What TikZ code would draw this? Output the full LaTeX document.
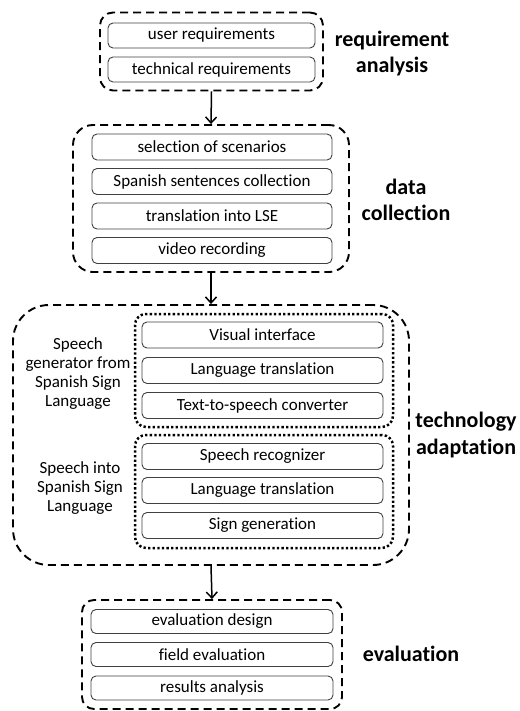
\documentclass[tikz,border=0pt]{standalone}
\usepackage{fontspec}
\setmainfont{Carlito}[Ligatures=NoCommon]
\usetikzlibrary{arrows.meta}
\newcommand{\rfont}{\fontsize{17}{19}\selectfont}
\newcommand{\bfont}{\fontsize{22}{26.5}\selectfont\bfseries}
\tikzset{
  stepbox/.style={draw=black!75, line width=0.9pt, rounded corners=5pt, minimum height=26pt, inner sep=0pt, font=\rfont},
  grp/.style={draw=black, line width=1.9pt, dash pattern=on 8pt off 5pt, inner sep=0pt},
  dotgrp/.style={draw=black, line width=2.5pt, dash pattern=on 2.3pt off 2.3pt, rounded corners=11pt, inner sep=0pt},
  phase/.style={font=\bfont, align=center, inner sep=0pt},
  side/.style={font=\rfont, align=center, inner sep=0pt},
  arr/.style={line width=1.5pt, -{Straight Barb[length=6pt,width=11pt,line width=1.5pt]}}
}
\begin{document}
\begin{tikzpicture}[x=1pt,y=-1pt]
\useasboundingbox (0,0) rectangle (519,711);
% requirement analysis
\node[grp, rounded corners=13pt, minimum width=223pt, minimum height=78pt] (g1) at (211.5,51.5) {};
\node[stepbox, minimum width=207pt, minimum height=25pt] (u1) at (211.5,35.5) {user requirements};
\node[stepbox, minimum width=207pt, minimum height=25pt] (u2) at (211.5,69.5) {technical requirements};
\node[phase] (l1) at (392,53.5) {requirement\\analysis};
% data collection
\node[grp, rounded corners=20pt, minimum width=276pt, minimum height=147pt] (g2) at (211,198.5) {};
\node[stepbox, minimum width=240pt] (d1) at (212,147) {selection of scenarios};
\node[stepbox, minimum width=240pt] (d2) at (212,181.5) {Spanish sentences collection};
\node[stepbox, minimum width=240pt] (d3) at (212,216) {translation into LSE};
\node[stepbox, minimum width=240pt] (d4) at (212,250.5) {video recording};
\node[phase] (l2) at (406,200) {data\\collection};
% technology adaptation
\node[grp, rounded corners=36pt, minimum width=396pt, minimum height=260pt] (g3) at (211,435) {};
\node[dotgrp, minimum width=258pt, minimum height=113pt] (s1) at (264,370.5) {};
\node[dotgrp, minimum width=258pt, minimum height=113pt] (s2) at (264,491.5) {};
\node[stepbox, minimum width=241pt] (t1) at (262.5,335) {Visual interface};
\node[stepbox, minimum width=241pt] (t2) at (262.5,370.5) {Language translation};
\node[stepbox, minimum width=241pt] (t3) at (262.5,405.5) {Text-to-speech converter};
\node[stepbox, minimum width=241pt] (t4) at (262.5,456.5) {Speech recognizer};
\node[stepbox, minimum width=241pt] (t5) at (262.5,490.5) {Language translation};
\node[stepbox, minimum width=241pt] (t6) at (262.5,525.5) {Sign generation};
\node[side] (sl1) at (78,374) {Speech\\generator from\\Spanish Sign\\Language};
\node[side] (sl2) at (80,488) {Speech into\\Spanish Sign\\Language};
\node[phase] (l3) at (466,435) {technology\\adaptation};
% evaluation
\node[grp, rounded corners=12pt, minimum width=260pt, minimum height=109pt] (g4) at (212,654.5) {};
\node[stepbox, minimum width=242pt, minimum height=24pt] (e1) at (212,621.5) {evaluation design};
\node[stepbox, minimum width=242pt, minimum height=24pt] (e2) at (212,654.5) {field evaluation};
\node[stepbox, minimum width=242pt, minimum height=24pt] (e3) at (212,688) {results analysis};
\node[phase] (l4) at (411,654) {evaluation};
% arrows
\draw[arr] (g1.south) -- (g2.north);
\draw[arr] (g2.south) -- (g3.north);
\draw[arr] (g3.south) -- (g4.north);
\end{tikzpicture}
\end{document}
